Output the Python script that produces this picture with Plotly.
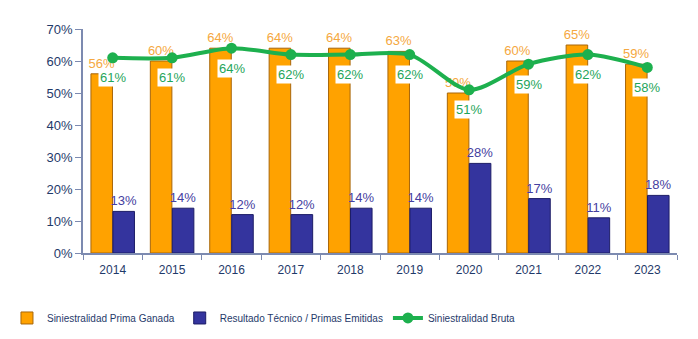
import plotly.graph_objects as go

years = ["2014", "2015", "2016", "2017", "2018", "2019", "2020", "2021", "2022", "2023"]
prima_ganada = [56, 60, 64, 64, 64, 63, 50, 60, 65, 59]
resultado_tecnico = [13, 14, 12, 12, 14, 14, 28, 17, 11, 18]
siniestralidad_bruta = [61, 61, 64, 62, 62, 62, 51, 59, 62, 58]
y_ticks = [0, 10, 20, 30, 40, 50, 60, 70]

FONT = "Liberation Sans, Arial, sans-serif"
ORANGE = "#FFA200"
BLUE = "#34349E"
GREEN = "#1DB04E"

fig = go.Figure()
fig.add_trace(go.Bar(
    x=years, y=prima_ganada, name="Siniestralidad Prima Ganada",
    marker=dict(color=ORANGE, line=dict(color="#A8660A", width=1)),
    text=[f"{v}%" for v in prima_ganada], textposition="outside", constraintext="none",
    textfont=dict(color="#F5A841", size=13, family=FONT), cliponaxis=False,
))
fig.add_trace(go.Bar(
    x=years, y=resultado_tecnico, name="Resultado Técnico / Primas Emitidas",
    marker=dict(color=BLUE, line=dict(color="#1C1C66", width=1)),
    text=[f"{v}%" for v in resultado_tecnico], textposition="outside", constraintext="none",
    textfont=dict(color="#4540A0", size=13, family=FONT), cliponaxis=False,
))
fig.add_trace(go.Scatter(
    x=years, y=siniestralidad_bruta, name="Siniestralidad Bruta",
    mode="lines+markers", line=dict(color=GREEN, width=4, shape="spline", smoothing=0.8),
    marker=dict(color=GREEN, size=11), cliponaxis=False,
))

# annotation x on a category axis: use the category index
for i, v in enumerate(siniestralidad_bruta):
    fig.add_annotation(x=i, y=v, xref="x", yref="y", text=f"{v}%", showarrow=False,
                       yshift=-20, bgcolor="white", borderpad=1,
                       font=dict(color="#1FA55A", size=13, family=FONT))

fig.update_layout(
    width=698, height=339,
    margin=dict(l=83, r=21, t=29, b=86, autoexpand=False),
    paper_bgcolor="white", plot_bgcolor="white",
    barmode="group", bargap=0.26, bargroupgap=0.02,
    showlegend=True,
    legend=dict(orientation="h", xref="container", yref="container",
                x=0.01, xanchor="left", y=0.062, yanchor="middle",
                font=dict(size=10, color="#1F3A6A", family=FONT),
                itemwidth=30, tracegroupgap=0),
    font=dict(family=FONT, color="#1F3A6A"),
)
fig.update_xaxes(type="category", categoryorder="array", categoryarray=years,
                 range=[-0.5, len(years) - 0.5],
                 showline=True, linecolor="#7C8AB0", linewidth=1.5,
                 ticks="outside", ticklen=5, tickcolor="#7C8AB0", tickson="boundaries",
                 ticklabelstandoff=5,
                 tickfont=dict(size=12, color="#1F3A6A"))
fig.update_yaxes(range=[0, 70], tickvals=y_ticks, ticktext=[f"{t}%" for t in y_ticks],
                 showline=True, linecolor="#7C8AB0", linewidth=1.5,
                 ticks="outside", ticklen=6, tickcolor="#7C8AB0",
                 showgrid=False, zeroline=False, tickfont=dict(size=13, color="#1F3A6A"))

fig.write_html("out.html")
